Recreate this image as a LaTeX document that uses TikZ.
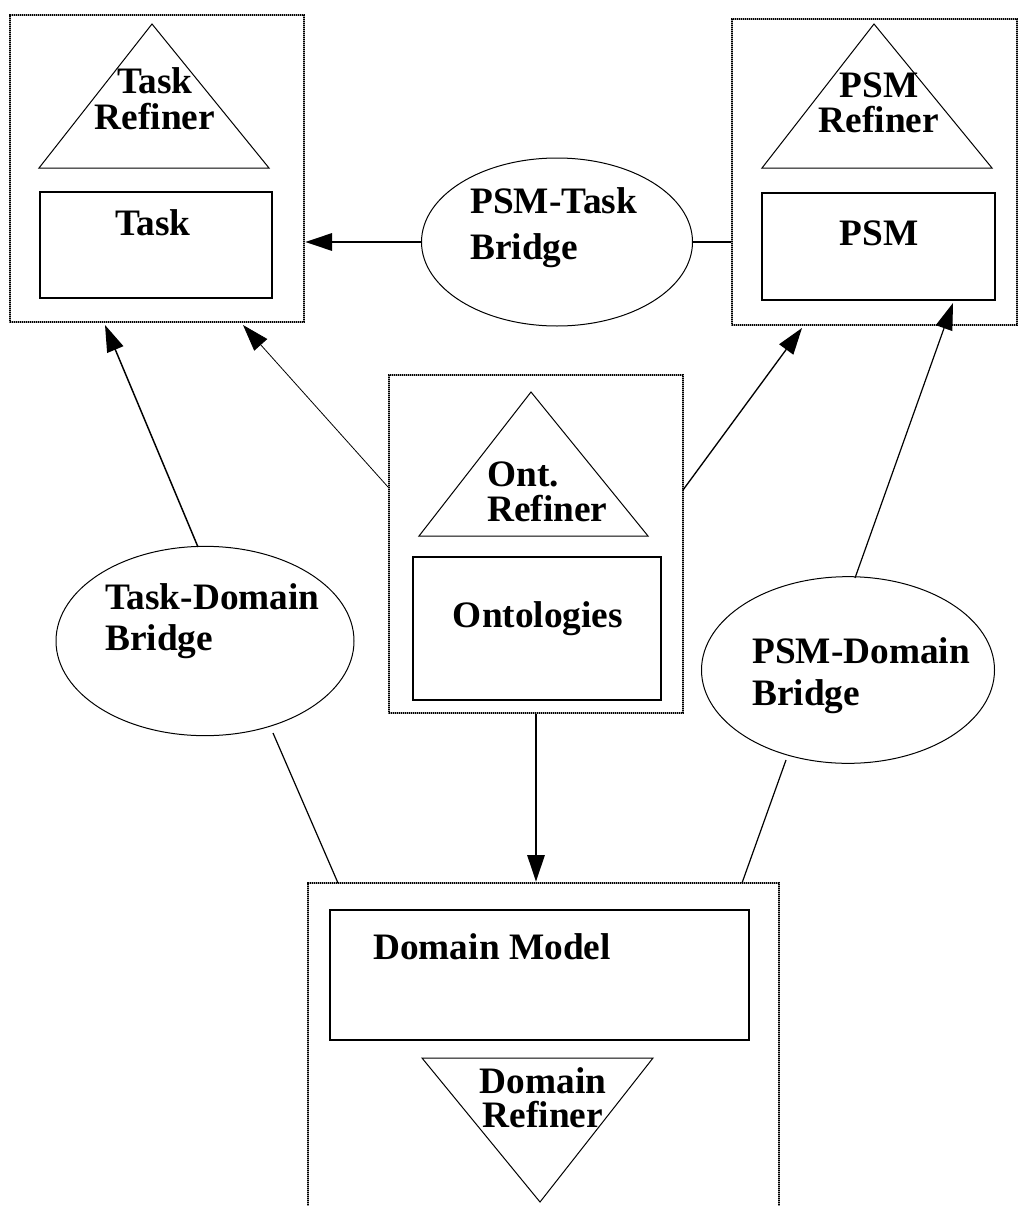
\documentclass[tikz,border=0pt]{standalone}
\usepackage{fontspec}
\setmainfont{Liberation Serif}
\usetikzlibrary{arrows.meta,shapes.geometric}
\tikzset{
	outerbox/.style={draw, inner sep=0pt, line width=2pt, dash pattern=on 0.9pt off 0.6pt,
		preaction={draw, solid, black!40, line width=2pt}},
	innerbox/.style={draw, inner sep=0pt, line width=1.5pt},
	bridge/.style={draw, ellipse, inner sep=0pt, line width=0.75pt},
	tri/.style={line width=0.75pt, line join=miter},
	lbl/.style={inner sep=0pt, font=\fontsize{28}{#1}\selectfont\bfseries},
	lbl/.default=27pt,
	conn/.style={line width=#1},
	conn/.default=1.5pt,
	>={Triangle[length=20pt,width=13pt]}
}
\begin{document}
\begin{tikzpicture}[x=0.75pt,y=-0.75pt]
		\useasboundingbox (0,0) rectangle (1020,1206);
		\clip (0,0) rectangle (1020,1206);
		% outer boxes
		\node[outerbox, minimum width=220.5pt, minimum height=230.25pt] (taskbox) at (157,168.5) {};
		\node[outerbox, minimum width=213.75pt, minimum height=229.5pt] (psmbox) at (874.5,172) {};
		\node[outerbox, minimum width=220.5pt, minimum height=253.5pt] (ontbox) at (536,544) {};
		\node[outerbox, minimum width=353.25pt, minimum height=252.75pt] (domainbox) at (543.5,1051.5) {};
		% inner boxes
		\node[innerbox, minimum width=174pt, minimum height=79.5pt] (task) at (156,245) {};
		\node[innerbox, minimum width=174.75pt, minimum height=80.25pt] (psm) at (878.5,246.5) {};
		\node[innerbox, minimum width=186pt, minimum height=107.25pt] (ont) at (537,628.5) {};
		\node[innerbox, minimum width=314.25pt, minimum height=97.5pt] (domain) at (539.5,975) {};
		% refiners
		\draw[tri] (152,24) -- (269,168) -- (39,168) -- cycle;
		\draw[tri] (874,24) -- (992,168) -- (762,168) -- cycle;
		\draw[tri] (531,392) -- (648,536) -- (419,536) -- cycle;
		\draw[tri] (422,1058) -- (653,1058) -- (540,1202) -- cycle;
		% bridges
		\node[bridge, minimum width=203.25pt, minimum height=126pt] (ptbridge) at (557,242) {};
		\node[bridge, minimum width=223.5pt, minimum height=142pt] (tdbridge) at (205,641) {};
		\node[bridge, minimum width=219.75pt, minimum height=140pt] (pdbridge) at (848,670) {};
		% labels
		\node[lbl, anchor=north, align=center] (tasktxt) at (155,67) {Task\\Refiner};
		\node[lbl, anchor=base] (tasklbl) at (153,235) {Task};
		\node[lbl=26pt, anchor=north, align=center] (psmtxt) at (879,73) {PSM\\Refiner};
		\node[lbl, anchor=base] (psmlbl) at (879,245) {PSM};
		\node[lbl=26pt, anchor=north west, align=left] (onttxt) at (487,462) {Ont.\\Refiner};
		\node[lbl, anchor=base] (ontlbl) at (538,627) {Ontologies};
		\node[lbl, anchor=base west] (domainlbl) at (373,959) {Domain Model};
		\node[lbl=26pt, anchor=north, align=center] (domaintxt) at (543,1067) {Domain\\Refiner};
		\node[lbl=35pt, anchor=north west, align=left] (pttxt) at (470,187) {PSM-Task\\Bridge};
		\node[lbl=31pt, anchor=north west, align=left] (tdtxt) at (105,583) {Task-Domain\\Bridge};
		\node[lbl=32pt, anchor=north west, align=left] (pdtxt) at (752,637) {PSM-Domain\\Bridge};
		% connector ends
		\coordinate (tdtop) at (198,547);
		\coordinate (tdbot) at (273,733);
		\coordinate (pdtop) at (855,578);
		\coordinate (pdbot) at (786,760);
		\coordinate (ontleft) at (388,487);
		\coordinate (ontright) at (683,490);
		\coordinate (tasktipA) at (105,325);
		\coordinate (tasktipB) at (243,325);
		\coordinate (psmtipA) at (802,328);
		\coordinate (psmtipB) at (953,303);
		\coordinate (domtopL) at (338,883);
		\coordinate (domtopR) at (742,883);
		% connectors
		\draw[conn, ->] (ptbridge.west) -- (ptbridge.west -| taskbox.east);
		\draw[conn] (ptbridge.east) -- (ptbridge.east -| psmbox.west);
		\draw[conn=1.1pt, ->] (tdtop) -- (tasktipA);
		\draw[conn=0.6pt, ->] (ontleft) -- (tasktipB);
		\draw[conn=1pt, ->] (ontright) -- (psmtipA);
		\draw[conn=0.9pt, ->] (pdtop) -- (psmtipB);
		\draw[conn, ->] (ontbox.south) -- (ontbox.south |- domainbox.north);
		\draw[conn=0.9pt] (tdbot) -- (domtopL);
		\draw[conn=0.9pt] (pdbot) -- (domtopR);
\end{tikzpicture}
\end{document}
